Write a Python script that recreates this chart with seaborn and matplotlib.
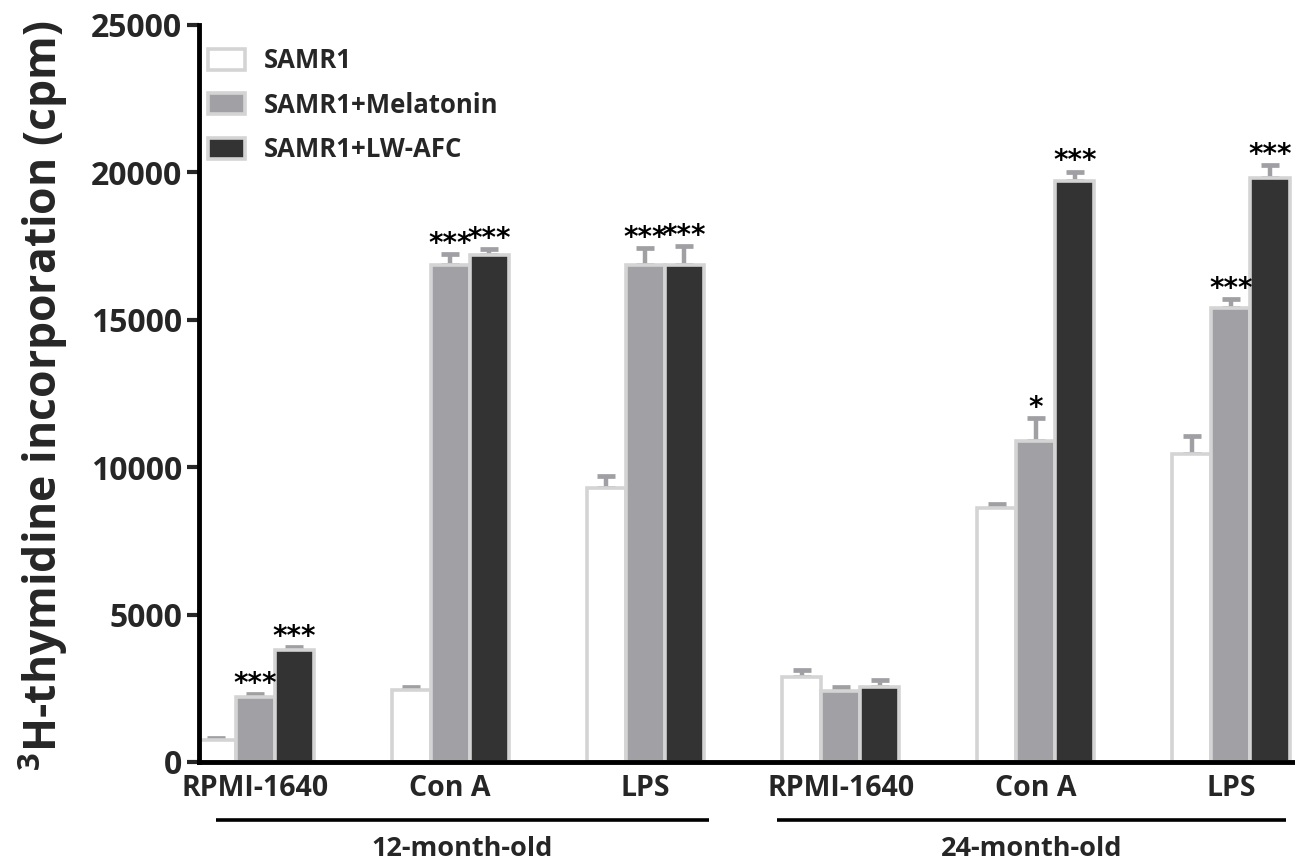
import numpy as np
import pandas as pd
import seaborn as sns
import matplotlib.pyplot as plt
from matplotlib.patches import Patch
import matplotlib.transforms as mtransforms

# ---------------- data ----------------
treatments = ["SAMR1", "SAMR1+Melatonin", "SAMR1+LW-AFC"]
stimuli = ["RPMI-1640", "Con A", "LPS", "RPMI-1640", "Con A", "LPS"]
ages = ["12-month-old", "12-month-old", "12-month-old",
        "24-month-old", "24-month-old", "24-month-old"]

samr1_mean = [750, 2450, 9300, 2900, 8600, 10450]
samr1_err = [60, 80, 400, 220, 150, 620]
mel_mean = [2200, 16850, 16850, 2400, 10900, 15400]
mel_err = [100, 380, 580, 150, 780, 300]
lw_mean = [3800, 17200, 16850, 2550, 19700, 19800]
lw_err = [100, 200, 650, 220, 330, 450]

samr1_sig = ["", "", "", "", "", ""]
mel_sig = ["***", "***", "***", "", "*", "***"]
lw_sig = ["***", "***", "***", "", "***", "***"]

y_ticks = [0, 5000, 10000, 15000, 20000, 25000]

# ---------------- layout ----------------
group_pos = list(range(len(stimuli)))

rows = []
for t, means in zip(treatments, [samr1_mean, mel_mean, lw_mean]):
    for p, m in zip(group_pos, means):
        rows.append({"pos": p, "treatment": t, "value": m})
df = pd.DataFrame(rows)

sns.set_style("ticks")
plt.rcParams["font.family"] = ["Open Sans", "DejaVu Sans"]
plt.rcParams["font.weight"] = "bold"
plt.rcParams["mathtext.fontset"] = "custom"
plt.rcParams["mathtext.rm"] = "Open Sans:bold"
plt.rcParams["mathtext.bf"] = "Open Sans:bold"

fig = plt.figure(figsize=(12.95, 8.65), dpi=100)
ax = fig.add_axes([199 / 1295, (865 - 762) / 865, 1096 / 1295, 737 / 865])

palette = {"SAMR1": "#ffffff", "SAMR1+Melatonin": "#a1a1a5",
           "SAMR1+LW-AFC": "#333333"}
EDGE = "#d4d4d4"
ERRC = "#a0a0a4"

sns.barplot(data=df, x="pos", y="value", hue="treatment", hue_order=treatments,
            palette=palette, native_scale=True, width=0.6, errorbar=None,
            saturation=1, edgecolor=EDGE, linewidth=2.6, legend=False, ax=ax,
            zorder=2)

errs_all = [samr1_err, mel_err, lw_err]
sigs_all = [samr1_sig, mel_sig, lw_sig]
for cont, errs, sigs in zip(ax.containers, errs_all, sigs_all):
    xs = [b.get_x() + b.get_width() / 2 for b in cont]
    hs = [b.get_height() for b in cont]
    ax.errorbar(xs, hs, yerr=[np.zeros(len(errs)), errs], fmt="none",
                ecolor=ERRC, elinewidth=3.2, capsize=6.5, capthick=3.4,
                zorder=1.5)
    for x, h, e, s in zip(xs, hs, errs, sigs):
        if s:
            ax.annotate(s, xy=(x, h + e), xytext=(0, 1.5), textcoords="offset points",
                        ha="center", va="baseline", fontsize=20,
                        family="DejaVu Sans", fontweight="bold", color="black",
                        annotation_clip=False)

ax.set_ylim(0, 25000)
ax.set_xlim(group_pos[0] - 0.287, group_pos[0] + 5.328)
ax.set_yticks(y_ticks)
ax.set_yticklabels([str(v) for v in y_ticks], fontsize=23, fontweight="bold")
ax.set_xticks(group_pos)
ax.set_xticklabels(stimuli, fontsize=20.5, fontweight="bold")
ax.tick_params(axis="y", length=9, width=3, direction="out", pad=3)
ax.tick_params(axis="x", length=0, pad=9)
ax.set_xlabel("")
ax.set_ylabel(r"$^{\mathbf{3}}$H-thymidine incorporation (cpm)", fontsize=32,
              fontweight="bold")
ax.yaxis.set_label_coords(-0.118, 0.497)

for side in ["top", "right"]:
    ax.spines[side].set_visible(False)
for side in ["left", "bottom"]:
    ax.spines[side].set_linewidth(3.5)
    ax.spines[side].set_color("black")

# age group brackets
trans = mtransforms.blended_transform_factory(ax.transData, ax.transAxes)
age_levels = list(dict.fromkeys(ages))
ext = {age_levels[0]: (0.20, 0.326), age_levels[1]: (0.326, 0.28)}
for a in age_levels:
    ps = [p for p, aa in zip(group_pos, ages) if aa == a]
    x0, x1 = ps[0] - ext[a][0], ps[-1] + ext[a][1]
    ax.plot([x0, x1], [-0.0787, -0.0787], color="black", lw=2.6,
            transform=trans, clip_on=False, solid_capstyle="butt")
    ax.text((x0 + x1) / 2, -0.1275, a, transform=trans, ha="center",
            va="baseline", fontsize=19.5, fontweight="bold")

handles = [Patch(facecolor=palette[t], edgecolor=EDGE, linewidth=2.6, label=t)
           for t in treatments]
ax.legend(handles=handles, loc="upper left", bbox_to_anchor=(0.008, 0.970),
          frameon=False, handlelength=1.45, handleheight=0.9,
          handletextpad=0.75, labelspacing=0.68, borderpad=0, borderaxespad=0,
          prop={"weight": "bold", "size": 18.5})

fig.savefig("out.png", dpi=100)
